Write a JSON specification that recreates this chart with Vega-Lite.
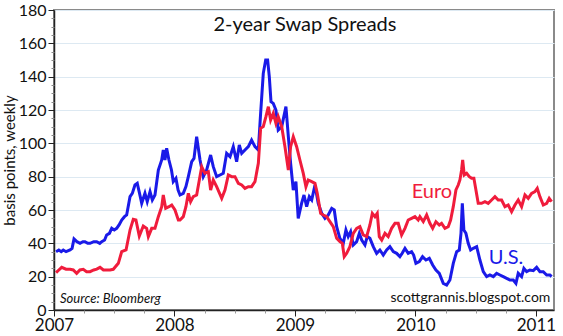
{
  "$schema": "https://vega.github.io/schema/vega-lite/v6.json",
  "width": 500,
  "height": 300,
  "autosize": "none",
  "padding": {"left": 54, "top": 10, "right": 9, "bottom": 26},
  "background": "white",
  "config": {
    "font": "Lato",
    "view": {"stroke": "#8a8a8a", "strokeWidth": 2},
    "axis": {"domainColor": "#222", "tickColor": "#222", "labelColor": "#111", "titleColor": "#111", "labelFont": "Lato", "titleFont": "Lato", "domainWidth": 1.5}
  },
  "datasets": {
    "us": [
      {"yr": 2007.017, "v": 35}, {"yr": 2007.04, "v": 36}, {"yr": 2007.06, "v": 35}, {"yr": 2007.077, "v": 36}, {"yr": 2007.1, "v": 35},
      {"yr": 2007.133, "v": 36}, {"yr": 2007.15, "v": 37}, {"yr": 2007.166, "v": 42.6}, {"yr": 2007.19, "v": 41}, {"yr": 2007.216, "v": 40},
      {"yr": 2007.24, "v": 41}, {"yr": 2007.257, "v": 41}, {"yr": 2007.28, "v": 40}, {"yr": 2007.299, "v": 40}, {"yr": 2007.33, "v": 41},
      {"yr": 2007.354, "v": 41}, {"yr": 2007.38, "v": 40}, {"yr": 2007.396, "v": 41}, {"yr": 2007.42, "v": 42}, {"yr": 2007.437, "v": 45},
      {"yr": 2007.46, "v": 46}, {"yr": 2007.479, "v": 49}, {"yr": 2007.5, "v": 48}, {"yr": 2007.52, "v": 49}, {"yr": 2007.54, "v": 51},
      {"yr": 2007.562, "v": 54}, {"yr": 2007.585, "v": 56}, {"yr": 2007.603, "v": 57}, {"yr": 2007.631, "v": 68}, {"yr": 2007.65, "v": 70},
      {"yr": 2007.672, "v": 75}, {"yr": 2007.691, "v": 76}, {"yr": 2007.71, "v": 70}, {"yr": 2007.728, "v": 64}, {"yr": 2007.755, "v": 70},
      {"yr": 2007.774, "v": 65}, {"yr": 2007.797, "v": 71}, {"yr": 2007.816, "v": 66}, {"yr": 2007.838, "v": 69}, {"yr": 2007.866, "v": 84},
      {"yr": 2007.894, "v": 90}, {"yr": 2007.907, "v": 96}, {"yr": 2007.921, "v": 90}, {"yr": 2007.935, "v": 97}, {"yr": 2007.954, "v": 90},
      {"yr": 2007.975, "v": 84}, {"yr": 2007.99, "v": 77}, {"yr": 2008.012, "v": 79}, {"yr": 2008.03, "v": 72}, {"yr": 2008.046, "v": 69},
      {"yr": 2008.073, "v": 70}, {"yr": 2008.095, "v": 74}, {"yr": 2008.115, "v": 80}, {"yr": 2008.143, "v": 89}, {"yr": 2008.162, "v": 91},
      {"yr": 2008.184, "v": 104}, {"yr": 2008.212, "v": 90}, {"yr": 2008.239, "v": 80}, {"yr": 2008.267, "v": 84}, {"yr": 2008.3, "v": 93},
      {"yr": 2008.322, "v": 86}, {"yr": 2008.35, "v": 80}, {"yr": 2008.378, "v": 81}, {"yr": 2008.405, "v": 82}, {"yr": 2008.433, "v": 94},
      {"yr": 2008.461, "v": 92}, {"yr": 2008.488, "v": 98}, {"yr": 2008.516, "v": 89}, {"yr": 2008.538, "v": 99}, {"yr": 2008.558, "v": 94},
      {"yr": 2008.585, "v": 96}, {"yr": 2008.613, "v": 98}, {"yr": 2008.64, "v": 102}, {"yr": 2008.668, "v": 98}, {"yr": 2008.696, "v": 96},
      {"yr": 2008.715, "v": 118}, {"yr": 2008.737, "v": 142}, {"yr": 2008.757, "v": 150}, {"yr": 2008.773, "v": 150}, {"yr": 2008.787, "v": 140},
      {"yr": 2008.801, "v": 125}, {"yr": 2008.82, "v": 124}, {"yr": 2008.842, "v": 120}, {"yr": 2008.861, "v": 108}, {"yr": 2008.89, "v": 110},
      {"yr": 2008.925, "v": 122}, {"yr": 2008.945, "v": 104}, {"yr": 2008.964, "v": 88}, {"yr": 2008.986, "v": 72}, {"yr": 2009.008, "v": 77},
      {"yr": 2009.027, "v": 55}, {"yr": 2009.055, "v": 64}, {"yr": 2009.075, "v": 69}, {"yr": 2009.097, "v": 62}, {"yr": 2009.119, "v": 68},
      {"yr": 2009.139, "v": 66}, {"yr": 2009.166, "v": 75}, {"yr": 2009.193, "v": 64}, {"yr": 2009.222, "v": 58}, {"yr": 2009.249, "v": 55},
      {"yr": 2009.276, "v": 57}, {"yr": 2009.305, "v": 61}, {"yr": 2009.326, "v": 60}, {"yr": 2009.346, "v": 50}, {"yr": 2009.373, "v": 43},
      {"yr": 2009.401, "v": 40}, {"yr": 2009.423, "v": 48}, {"yr": 2009.442, "v": 44}, {"yr": 2009.462, "v": 47}, {"yr": 2009.484, "v": 39},
      {"yr": 2009.512, "v": 41}, {"yr": 2009.534, "v": 46}, {"yr": 2009.554, "v": 42}, {"yr": 2009.581, "v": 39}, {"yr": 2009.6, "v": 44},
      {"yr": 2009.622, "v": 43}, {"yr": 2009.65, "v": 38}, {"yr": 2009.678, "v": 34}, {"yr": 2009.705, "v": 36}, {"yr": 2009.733, "v": 33},
      {"yr": 2009.761, "v": 36}, {"yr": 2009.788, "v": 38}, {"yr": 2009.816, "v": 35}, {"yr": 2009.844, "v": 34}, {"yr": 2009.871, "v": 32},
      {"yr": 2009.89, "v": 34}, {"yr": 2009.913, "v": 37}, {"yr": 2009.94, "v": 34}, {"yr": 2009.968, "v": 35}, {"yr": 2009.985, "v": 33},
      {"yr": 2010.004, "v": 28}, {"yr": 2010.032, "v": 29}, {"yr": 2010.059, "v": 32}, {"yr": 2010.087, "v": 30}, {"yr": 2010.115, "v": 31},
      {"yr": 2010.143, "v": 27}, {"yr": 2010.17, "v": 24}, {"yr": 2010.198, "v": 22}, {"yr": 2010.231, "v": 16}, {"yr": 2010.259, "v": 15},
      {"yr": 2010.286, "v": 18}, {"yr": 2010.314, "v": 28}, {"yr": 2010.342, "v": 35}, {"yr": 2010.364, "v": 36}, {"yr": 2010.378, "v": 46},
      {"yr": 2010.389, "v": 64}, {"yr": 2010.402, "v": 48}, {"yr": 2010.419, "v": 46}, {"yr": 2010.438, "v": 40}, {"yr": 2010.458, "v": 36},
      {"yr": 2010.48, "v": 37}, {"yr": 2010.508, "v": 38}, {"yr": 2010.535, "v": 30}, {"yr": 2010.563, "v": 23}, {"yr": 2010.591, "v": 20},
      {"yr": 2010.618, "v": 21}, {"yr": 2010.646, "v": 20}, {"yr": 2010.674, "v": 22}, {"yr": 2010.701, "v": 21}, {"yr": 2010.729, "v": 20},
      {"yr": 2010.757, "v": 19}, {"yr": 2010.784, "v": 18}, {"yr": 2010.812, "v": 18}, {"yr": 2010.834, "v": 16}, {"yr": 2010.853, "v": 22},
      {"yr": 2010.881, "v": 20}, {"yr": 2010.9, "v": 25}, {"yr": 2010.923, "v": 23}, {"yr": 2010.95, "v": 24}, {"yr": 2010.978, "v": 23.6},
      {"yr": 2011.006, "v": 25.6}, {"yr": 2011.033, "v": 23}, {"yr": 2011.061, "v": 23}, {"yr": 2011.089, "v": 21}, {"yr": 2011.116, "v": 21},
      {"yr": 2011.13, "v": 20}
    ],
    "euro": [
      {"yr": 2007.017, "v": 22.4}, {"yr": 2007.04, "v": 24}, {"yr": 2007.064, "v": 25.6}, {"yr": 2007.1, "v": 24.5}, {"yr": 2007.133, "v": 24.4},
      {"yr": 2007.16, "v": 24}, {"yr": 2007.188, "v": 22}, {"yr": 2007.215, "v": 24}, {"yr": 2007.243, "v": 24.4}, {"yr": 2007.27, "v": 23},
      {"yr": 2007.299, "v": 23}, {"yr": 2007.33, "v": 24}, {"yr": 2007.355, "v": 24.5}, {"yr": 2007.382, "v": 25.6}, {"yr": 2007.41, "v": 24},
      {"yr": 2007.437, "v": 24}, {"yr": 2007.465, "v": 24}, {"yr": 2007.492, "v": 24.4}, {"yr": 2007.534, "v": 28}, {"yr": 2007.562, "v": 35},
      {"yr": 2007.598, "v": 36}, {"yr": 2007.631, "v": 48}, {"yr": 2007.658, "v": 54.4}, {"yr": 2007.68, "v": 54}, {"yr": 2007.708, "v": 44.4},
      {"yr": 2007.741, "v": 50.4}, {"yr": 2007.769, "v": 49}, {"yr": 2007.783, "v": 44}, {"yr": 2007.811, "v": 49}, {"yr": 2007.838, "v": 49},
      {"yr": 2007.866, "v": 56}, {"yr": 2007.894, "v": 62}, {"yr": 2007.907, "v": 69}, {"yr": 2007.927, "v": 61}, {"yr": 2007.954, "v": 62},
      {"yr": 2007.977, "v": 63}, {"yr": 2008.004, "v": 60}, {"yr": 2008.032, "v": 54}, {"yr": 2008.046, "v": 54}, {"yr": 2008.073, "v": 56},
      {"yr": 2008.095, "v": 62}, {"yr": 2008.115, "v": 70}, {"yr": 2008.134, "v": 65}, {"yr": 2008.156, "v": 68}, {"yr": 2008.184, "v": 69},
      {"yr": 2008.226, "v": 86}, {"yr": 2008.253, "v": 82}, {"yr": 2008.281, "v": 83}, {"yr": 2008.3, "v": 72}, {"yr": 2008.322, "v": 78},
      {"yr": 2008.35, "v": 74}, {"yr": 2008.392, "v": 67}, {"yr": 2008.419, "v": 72}, {"yr": 2008.447, "v": 81}, {"yr": 2008.475, "v": 80},
      {"yr": 2008.502, "v": 80}, {"yr": 2008.53, "v": 76}, {"yr": 2008.558, "v": 75}, {"yr": 2008.585, "v": 73}, {"yr": 2008.613, "v": 74},
      {"yr": 2008.64, "v": 74}, {"yr": 2008.668, "v": 77}, {"yr": 2008.696, "v": 88}, {"yr": 2008.715, "v": 109}, {"yr": 2008.737, "v": 110},
      {"yr": 2008.759, "v": 116}, {"yr": 2008.779, "v": 122}, {"yr": 2008.798, "v": 114}, {"yr": 2008.82, "v": 118}, {"yr": 2008.842, "v": 112},
      {"yr": 2008.861, "v": 116}, {"yr": 2008.89, "v": 110}, {"yr": 2008.917, "v": 98}, {"yr": 2008.945, "v": 84}, {"yr": 2008.964, "v": 98},
      {"yr": 2008.986, "v": 104}, {"yr": 2009.014, "v": 98}, {"yr": 2009.041, "v": 90}, {"yr": 2009.069, "v": 82}, {"yr": 2009.091, "v": 74},
      {"yr": 2009.11, "v": 78}, {"yr": 2009.139, "v": 77}, {"yr": 2009.166, "v": 76}, {"yr": 2009.185, "v": 70}, {"yr": 2009.213, "v": 58},
      {"yr": 2009.235, "v": 57}, {"yr": 2009.263, "v": 56}, {"yr": 2009.29, "v": 53}, {"yr": 2009.318, "v": 50}, {"yr": 2009.346, "v": 43},
      {"yr": 2009.373, "v": 41}, {"yr": 2009.393, "v": 40}, {"yr": 2009.409, "v": 32}, {"yr": 2009.429, "v": 34}, {"yr": 2009.456, "v": 38},
      {"yr": 2009.484, "v": 46}, {"yr": 2009.512, "v": 49}, {"yr": 2009.539, "v": 50}, {"yr": 2009.567, "v": 45}, {"yr": 2009.595, "v": 44},
      {"yr": 2009.622, "v": 51}, {"yr": 2009.642, "v": 58}, {"yr": 2009.664, "v": 56}, {"yr": 2009.683, "v": 58}, {"yr": 2009.7, "v": 44},
      {"yr": 2009.72, "v": 42}, {"yr": 2009.747, "v": 46}, {"yr": 2009.774, "v": 44}, {"yr": 2009.802, "v": 49}, {"yr": 2009.83, "v": 52},
      {"yr": 2009.857, "v": 52}, {"yr": 2009.885, "v": 45}, {"yr": 2009.913, "v": 49}, {"yr": 2009.94, "v": 54}, {"yr": 2009.968, "v": 55},
      {"yr": 2009.996, "v": 56}, {"yr": 2010.023, "v": 54}, {"yr": 2010.037, "v": 56}, {"yr": 2010.065, "v": 53}, {"yr": 2010.093, "v": 57},
      {"yr": 2010.12, "v": 52}, {"yr": 2010.143, "v": 49}, {"yr": 2010.17, "v": 53}, {"yr": 2010.198, "v": 51}, {"yr": 2010.217, "v": 52},
      {"yr": 2010.245, "v": 49}, {"yr": 2010.272, "v": 50}, {"yr": 2010.292, "v": 54}, {"yr": 2010.314, "v": 62}, {"yr": 2010.336, "v": 72},
      {"yr": 2010.355, "v": 75}, {"yr": 2010.369, "v": 78}, {"yr": 2010.383, "v": 84}, {"yr": 2010.392, "v": 90}, {"yr": 2010.405, "v": 81},
      {"yr": 2010.425, "v": 82}, {"yr": 2010.447, "v": 80}, {"yr": 2010.466, "v": 79}, {"yr": 2010.485, "v": 79}, {"yr": 2010.502, "v": 72},
      {"yr": 2010.521, "v": 64}, {"yr": 2010.549, "v": 64}, {"yr": 2010.577, "v": 65}, {"yr": 2010.604, "v": 64}, {"yr": 2010.632, "v": 66},
      {"yr": 2010.66, "v": 68}, {"yr": 2010.687, "v": 66}, {"yr": 2010.715, "v": 66}, {"yr": 2010.743, "v": 62}, {"yr": 2010.77, "v": 63},
      {"yr": 2010.798, "v": 59}, {"yr": 2010.826, "v": 63}, {"yr": 2010.853, "v": 66}, {"yr": 2010.881, "v": 62}, {"yr": 2010.909, "v": 69},
      {"yr": 2010.936, "v": 67}, {"yr": 2010.964, "v": 70}, {"yr": 2010.992, "v": 71}, {"yr": 2011.011, "v": 73}, {"yr": 2011.033, "v": 68},
      {"yr": 2011.061, "v": 63}, {"yr": 2011.089, "v": 64}, {"yr": 2011.11, "v": 67}, {"yr": 2011.13, "v": 65}
    ]
  },
  "resolve": {"axis": {"x": "independent", "y": "independent"}},
  "layer": [
    {
      "data": {"name": "us"},
      "mark": {"type": "line", "color": "#1a1ae8", "strokeWidth": 3, "clip": true},
      "encoding": {
        "x": {"field": "yr", "type": "quantitative", "scale": {"domain": [2007, 2011.15], "nice": false, "zero": false},
          "axis": {"orient": "bottom", "values": [2007, 2008, 2009, 2010, 2011], "format": "d", "title": null, "grid": false, "tickSize": 6, "labelFontSize": 17, "labelPadding": 1, "labelFlush": false}},
        "y": {"field": "v", "type": "quantitative", "scale": {"domain": [0, 180], "nice": false},
          "axis": {"orient": "left", "values": [0, 20, 40, 60, 80, 100, 120, 140, 160, 180], "title": "basis points, weekly", "titleFontSize": 15, "titleFontWeight": "normal", "titleAngle": -90, "titleBaseline": "middle", "titleAlign": "center", "titleX": -45, "titleY": 150, "labelFontSize": 16, "tickSize": 6, "labelPadding": 2, "grid": true, "gridColor": "#dde9f2", "gridWidth": 1.2}}
      }
    },
    {
      "data": {"name": "euro"},
      "mark": {"type": "line", "color": "#f01c3c", "strokeWidth": 3, "clip": true},
      "encoding": {
        "x": {"field": "yr", "type": "quantitative",
          "axis": {"orient": "bottom", "values": [2007.25, 2007.5, 2007.75, 2008.25, 2008.5, 2008.75, 2009.25, 2009.5, 2009.75, 2010.25, 2010.5, 2010.75], "labels": false, "domain": false, "grid": false, "tickSize": 3, "tickColor": "#999", "title": null}},
        "y": {"field": "v", "type": "quantitative",
          "axis": {"orient": "left", "values": [5, 10, 15, 25, 30, 35, 45, 50, 55, 65, 70, 75, 85, 90, 95, 105, 110, 115, 125, 130, 135, 145, 150, 155, 165, 170, 175], "labels": false, "domain": false, "grid": false, "tickSize": 3, "tickColor": "#888", "title": null}}
      }
    },
    {
      "data": {"values": [{"yr": 2009.083, "v": 171, "t": "2-year Swap Spreads"}]},
      "mark": {"type": "text", "fontSize": 20, "font": "Lato", "color": "#111", "baseline": "middle", "align": "center"},
      "encoding": {"x": {"field": "yr", "type": "quantitative", "axis": null}, "y": {"field": "v", "type": "quantitative", "axis": null}, "text": {"field": "t"}}
    },
    {
      "data": {"values": [{"yr": 2010.137, "v": 70.8, "t": "Euro"}]},
      "mark": {"type": "text", "fontSize": 20, "font": "Lato", "color": "#f01c3c", "baseline": "middle", "align": "center"},
      "encoding": {"x": {"field": "yr", "type": "quantitative", "axis": null}, "y": {"field": "v", "type": "quantitative", "axis": null}, "text": {"field": "t"}}
    },
    {
      "data": {"values": [{"yr": 2010.751, "v": 31.2, "t": "U.S."}]},
      "mark": {"type": "text", "fontSize": 20, "font": "Lato", "color": "#1a1ae8", "baseline": "middle", "align": "center"},
      "encoding": {"x": {"field": "yr", "type": "quantitative", "axis": null}, "y": {"field": "v", "type": "quantitative", "axis": null}, "text": {"field": "t"}}
    },
    {
      "data": {"values": [{"yr": 2007.05, "v": 6.6, "t": "Source: Bloomberg"}]},
      "mark": {"type": "text", "fontSize": 13, "font": "Lato", "fontStyle": "italic", "color": "#111", "baseline": "middle", "align": "left"},
      "encoding": {"x": {"field": "yr", "type": "quantitative", "axis": null}, "y": {"field": "v", "type": "quantitative", "axis": null}, "text": {"field": "t"}}
    },
    {
      "data": {"values": [{"yr": 2011.12, "v": 7.2, "t": "scottgrannis.blogspot.com"}]},
      "mark": {"type": "text", "fontSize": 14, "font": "Lato", "color": "#111", "baseline": "middle", "align": "right"},
      "encoding": {"x": {"field": "yr", "type": "quantitative", "axis": null}, "y": {"field": "v", "type": "quantitative", "axis": null}, "text": {"field": "t"}}
    }
  ]
}
